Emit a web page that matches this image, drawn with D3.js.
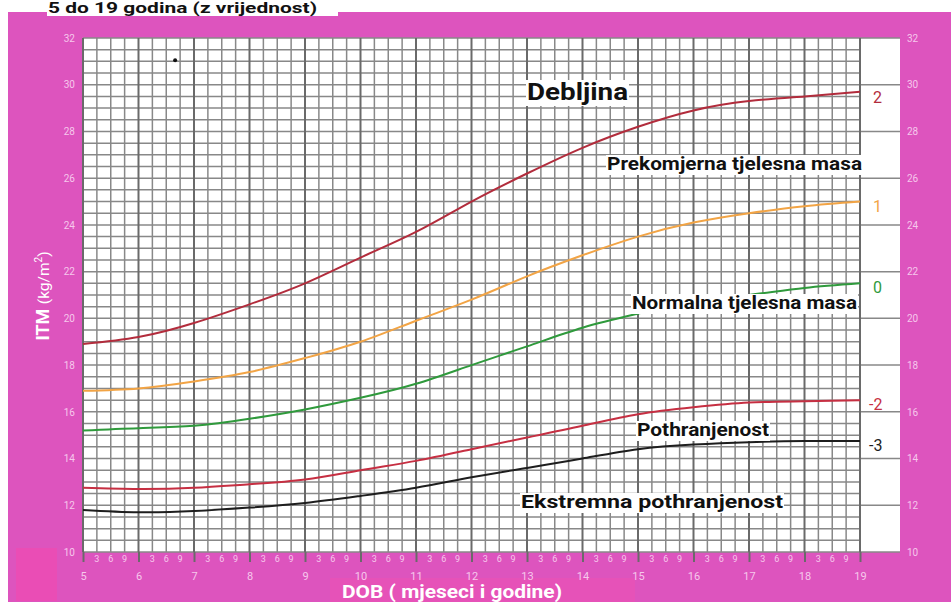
<!DOCTYPE html>
<html>
<head>
    <meta charset="utf-8">
    <title>ITM za dob - djevojčice</title>
    <script src="https://d3js.org/d3.v7.min.js"></script>
    <style>
        body { margin: 0; background: #fff; }
        text { font-family: Roboto, "Noto Sans", sans-serif; }
    </style>
</head>
<body>
<div id="chart"></div>
<script>
    // age in years (WHO z-score curves)
    let ages = [5, 6, 7, 8, 9, 10, 11, 12, 13, 14, 15, 16, 17, 18, 19];
    let zPlus2  = [18.9, 19.2, 19.8, 20.6, 21.5, 22.6, 23.7, 25.0, 26.2, 27.3, 28.2, 28.9, 29.3, 29.5, 29.7];
    let zPlus1  = [16.9, 17.0, 17.3, 17.7, 18.3, 19.0, 19.9, 20.8, 21.8, 22.7, 23.5, 24.1, 24.5, 24.8, 25.0];
    let zZero   = [15.2, 15.3, 15.4, 15.7, 16.1, 16.6, 17.2, 18.0, 18.8, 19.6, 20.2, 20.7, 21.0, 21.3, 21.5];
    let zMinus2 = [12.75, 12.7, 12.75, 12.9, 13.1, 13.5, 13.9, 14.4, 14.9, 15.4, 15.9, 16.2, 16.4, 16.45, 16.5];
    let zMinus3 = [11.8, 11.7, 11.75, 11.9, 12.1, 12.4, 12.75, 13.2, 13.6, 14.0, 14.4, 14.6, 14.7, 14.75, 14.75];
    let seriesNames = ["2", "1", "0", "-2", "-3"];
    let yTicks = [10, 12, 14, 16, 18, 20, 22, 24, 26, 28, 30, 32];
    let monthLabels = ["3", "6", "9"];
    let zoneLabels = ["Debljina", "Prekomjerna tjelesna masa", "Normalna tjelesna masa", "Pothranjenost", "Ekstremna pothranjenost"];

    let W = 951, H = 603;
    let pink = "#dd54be";
    let plotLeft = 83, plotRight = 860, whiteRight = 900, plotTop = 38, plotBottom = 552;

    let svg = d3.select("#chart").append("svg")
        .attr("width", W).attr("height", H);

    // background frame
    svg.append("rect").attr("x", 8).attr("y", 12).attr("width", W - 8).attr("height", 590).attr("fill", pink);
    svg.append("rect").attr("x", 16).attr("y", 548).attr("width", 41).attr("height", 53).attr("fill", "#ea4db5");
    svg.append("rect").attr("x", 330).attr("y", 578).attr("width", 305).attr("height", 24).attr("fill", "#e652b8");
    svg.append("rect").attr("x", plotLeft).attr("y", plotTop)
        .attr("width", whiteRight - plotLeft).attr("height", plotBottom - plotTop).attr("fill", "#fff");

    // title
    svg.append("rect").attr("x", 47).attr("y", 0).attr("width", 291).attr("height", 16).attr("fill", "#fff");
    svg.append("text").attr("x", 48).attr("y", 13)
        .attr("font-size", 15).attr("font-weight", "bold").attr("fill", "#111")
        .attr("textLength", 269).attr("lengthAdjust", "spacingAndGlyphs")
        .text("5 do 19 godina (z vrijednost)");

    let x = d3.scaleLinear().domain([5, 19]).range([plotLeft, plotRight]);
    let y = d3.scaleLinear().domain([10, 32]).range([plotBottom, plotTop]);

    // grid
    let grid = svg.append("g");
    grid.append("g").selectAll("line")
        .data(d3.range(10, 32.01, 0.5))
        .join("line")
        .attr("x1", plotLeft)
        .attr("x2", d => d % 2 === 0 ? whiteRight : plotRight)
        .attr("y1", d => y(d)).attr("y2", d => y(d))
        .attr("stroke", "#888").attr("stroke-width", 1.5);
    grid.append("g").selectAll("line")
        .data(d3.range(5, 19.001, 0.25))
        .join("line")
        .attr("x1", d => x(d)).attr("x2", d => x(d))
        .attr("y1", plotTop).attr("y2", plotBottom)
        .attr("stroke", d => Number.isInteger(d) ? "#6a6a6a" : "#888")
        .attr("stroke-width", d => Number.isInteger(d) ? 2 : 1.5);

    // y axes
    let yLeft = svg.append("g").attr("transform", `translate(${plotLeft},0)`)
        .call(d3.axisLeft(y).tickValues(yTicks).tickSize(0).tickPadding(8));
    let yRight = svg.append("g").attr("transform", `translate(${whiteRight},0)`)
        .call(d3.axisRight(y).tickValues(yTicks).tickSize(0).tickPadding(7));
    [yLeft, yRight].forEach(g => {
        g.select(".domain").remove();
        g.selectAll("text").attr("font-size", 10).attr("fill", "#f6c8ec")
            .style("font-family", "Roboto, sans-serif");
    });

    // x axis: years
    let xAxis = svg.append("g").attr("transform", `translate(0,${plotBottom})`)
        .call(d3.axisBottom(x).tickValues(ages).tickSize(10).tickPadding(10).tickFormat(d3.format("d")));
    xAxis.select(".domain").remove();
    xAxis.selectAll("line").attr("stroke", "#6a6a6a").attr("stroke-width", 2);
    xAxis.selectAll("text").attr("font-size", 11).attr("fill", "#f6c8ec")
        .style("font-family", "Roboto, sans-serif");

    // months
    let months = [];
    ages.slice(0, -1).forEach(a => monthLabels.forEach((m, i) => months.push({ age: a + (i + 1) / 4, label: m })));
    svg.append("g").selectAll("text")
        .data(months)
        .join("text")
        .attr("x", d => x(d.age)).attr("y", 562)
        .attr("text-anchor", "middle")
        .attr("font-size", 9).attr("fill", "#f6c8ec")
        .text(d => d.label);

    // axis titles
    svg.append("text").attr("x", 342).attr("y", 598)
        .attr("font-size", 18).attr("font-weight", "bold").attr("fill", "#fff")
        .attr("textLength", 220).attr("lengthAdjust", "spacingAndGlyphs")
        .text("DOB ( mjeseci i godine)");
    let yTitle = svg.append("text")
        .attr("transform", "translate(49,296) rotate(-90)")
        .attr("text-anchor", "middle").attr("fill", "#fff").attr("font-size", 18);
    yTitle.append("tspan").attr("font-weight", "bold").text("ITM ");
    yTitle.append("tspan").attr("font-size", 15.5).text("(kg/m");
    yTitle.append("tspan").attr("font-size", 10).attr("dy", -7).text("2");
    yTitle.append("tspan").attr("font-size", 15.5).attr("dy", 7).text(")");

    // curves
    let seriesValues = [zPlus2, zPlus1, zZero, zMinus2, zMinus3];
    let seriesColors = ["#b22c3c", "#f2a445", "#2f9a3c", "#c62f42", "#1e1e1e"];
    let line = d3.line().x(d => x(d[0])).y(d => y(d[1])).curve(d3.curveNatural);
    let curves = seriesValues.map((vals, i) => ({
        name: seriesNames[i], color: seriesColors[i], pts: ages.map((a, j) => [a, vals[j]])
    }));
    svg.append("g").selectAll("path")
        .data(curves)
        .join("path")
        .attr("d", d => line(d.pts))
        .attr("fill", "none")
        .attr("stroke", d => d.color)
        .attr("stroke-width", 2);

    svg.append("g").selectAll("text")
        .data(curves)
        .join("text")
        .attr("x", d => d.name.length > 1 ? 869 : 873)
        .attr("y", d => y(d.pts[d.pts.length - 1][1]) + (d.name === "2" ? 11 : 10))
        .attr("font-size", 16)
        .attr("fill", d => d.color)
        .text(d => d.name);

    // zone labels with white boxes
    let zonePos = [
        { x: 527, y: 100, size: 24, w: 101 },
        { x: 607, y: 170, size: 18.5, w: 255 },
        { x: 632, y: 309, size: 18.5, w: 225 },
        { x: 637, y: 436, size: 18.5, w: 132 },
        { x: 521, y: 508, size: 18.5, w: 262 }
    ];
    let zones = svg.append("g");
    zoneLabels.forEach((t, i) => {
        let p = zonePos[i];
        let g = zones.append("g");
        let txt = g.append("text").attr("x", p.x).attr("y", p.y)
            .attr("font-size", p.size).attr("font-weight", "bold").attr("fill", "#111")
            .attr("textLength", p.w).attr("lengthAdjust", "spacingAndGlyphs")
            .text(t);
        let bb = txt.node().getBBox();
        g.insert("rect", "text").attr("x", p.x - 1).attr("y", bb.y + 2)
            .attr("width", p.w + 2).attr("height", bb.height - 2).attr("fill", "#fff");
    });

    // stray dot
    svg.append("circle").attr("cx", x(6.66)).attr("cy", y(31.05)).attr("r", 2).attr("fill", "#111");
</script>
</body>
</html>
